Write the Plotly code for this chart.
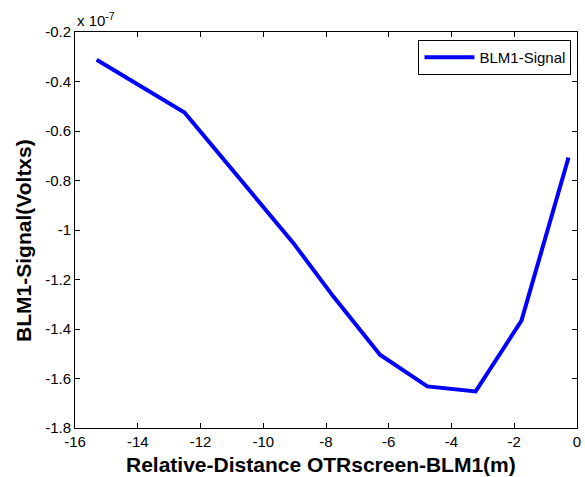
import plotly.graph_objects as go

# Relative distance (m) and BLM1 signal (in units of 1e-7 V)
distance_m = [-15.31, -12.51, -9.05, -7.77, -6.28, -4.77, -3.23, -1.77, -0.27]
signal_e7 = [-0.312, -0.525, -1.051, -1.268, -1.504, -1.632, -1.652, -1.366, -0.707]
series_name = "BLM1-Signal"

x_ticks = [-16, -14, -12, -10, -8, -6, -4, -2, 0]
x_tick_labels = ["-16", "-14", "-12", "-10", "-8", "-6", "-4", "-2", "0"]
y_ticks = [-1.8, -1.6, -1.4, -1.2, -1.0, -0.8, -0.6, -0.4, -0.2]
y_tick_labels = ["-1.8", "-1.6", "-1.4", "-1.2", "-1", "-0.8", "-0.6", "-0.4", "-0.2"]

FONT = "Liberation Sans, Arial"

fig = go.Figure()
fig.add_trace(go.Scatter(
    x=distance_m, y=signal_e7, mode="lines", name=series_name,
    line=dict(color="#0000ff", width=4),
))

axis_common = dict(
    showline=True, linecolor="black", linewidth=1, mirror="ticks",
    ticks="inside", ticklen=5, tickcolor="black", tickwidth=1,
    showgrid=False, zeroline=False, automargin=False,
    tickfont=dict(family=FONT, size=15, color="black"),
)

fig.update_layout(
    width=585, height=477,
    margin=dict(l=75, r=8, t=32, b=49),
    paper_bgcolor="white", plot_bgcolor="white",
    showlegend=True,
    legend=dict(
        x=0.989, y=0.98, xanchor="right", yanchor="top",
        bordercolor="black", borderwidth=1, bgcolor="white",
        font=dict(family=FONT, size=15, color="black"),
        itemwidth=50,
    ),
    xaxis=dict(range=[-16, 0], tickvals=x_ticks, ticktext=x_tick_labels, **axis_common),
    yaxis=dict(range=[-1.8, -0.2], tickvals=y_ticks, ticktext=y_tick_labels, **axis_common),
    annotations=[
        dict(text="x 10<sup>-7</sup>", xref="paper", yref="paper", x=0.0, y=1.0,
             xanchor="left", yanchor="bottom", showarrow=False, yshift=1,
             font=dict(family=FONT, size=15, color="black")),
        dict(text="<b>Relative-Distance OTRscreen-BLM1(m)</b>", xref="paper", yref="paper",
             x=0.49, y=-0.0934, xanchor="center", yanchor="middle", showarrow=False,
             font=dict(family=FONT, size=21, color="black")),
        dict(text="<b>BLM1-Signal(Voltxs)</b>", xref="paper", yref="paper",
             x=-0.1016, y=0.475, xanchor="center", yanchor="middle", showarrow=False,
             textangle=-90, font=dict(family=FONT, size=21, color="black")),
    ],
)

fig.write_html("out.html", config={"displayModeBar": False},
               post_script="document.body.style.margin='0';")
